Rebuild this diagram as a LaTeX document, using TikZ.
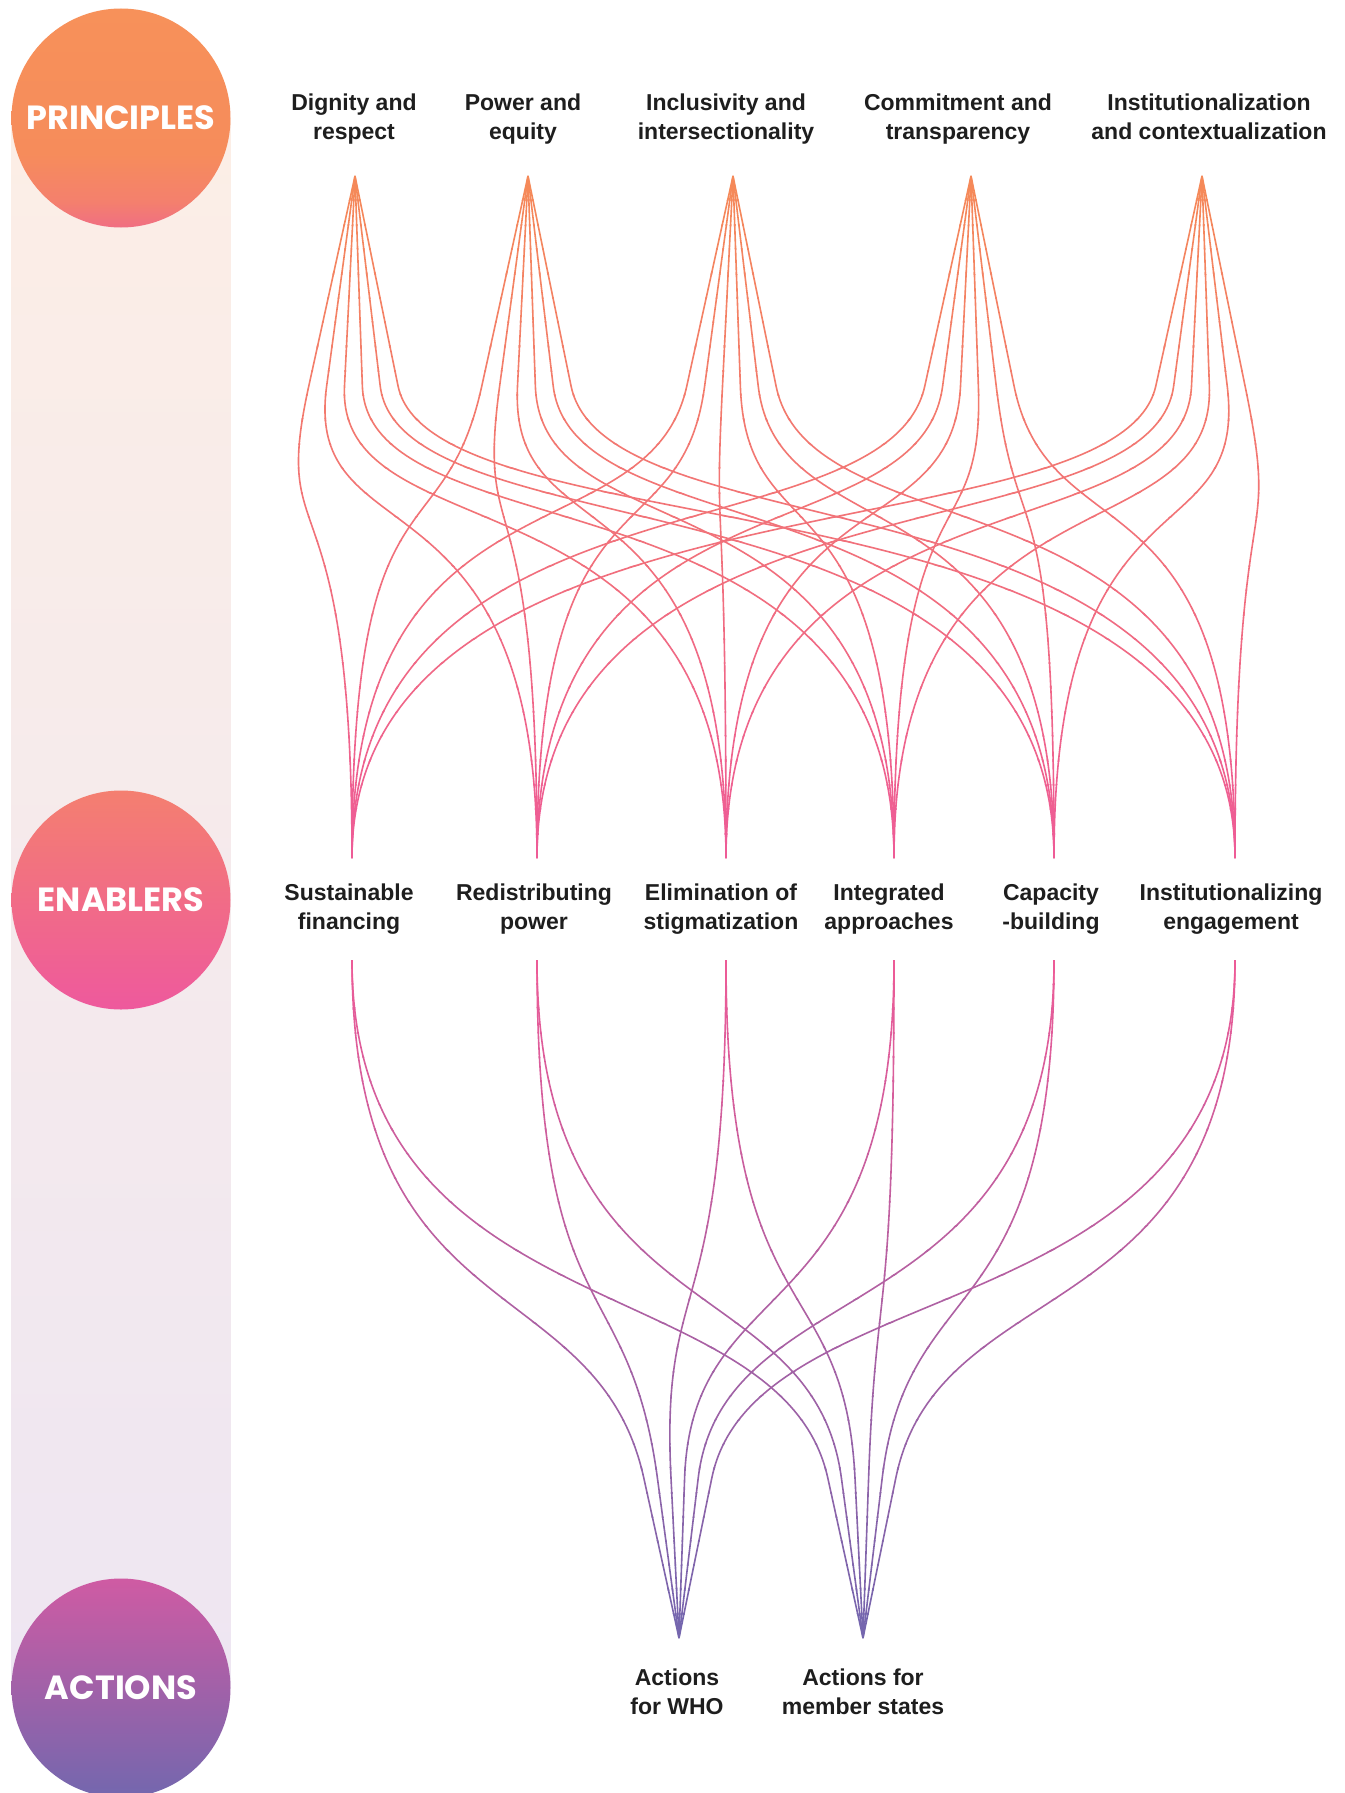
\documentclass[tikz,border=0pt]{standalone}
\usepackage{fontspec}
\setmainfont{Liberation Sans}
\newfontfamily\circfont{Poppins}
\usetikzlibrary{calc}
\definecolor{lineTop}{HTML}{F58A58}
\definecolor{lineMid}{HTML}{EE5B97}
\definecolor{lineLow}{HTML}{7366AE}
\definecolor{labelInk}{HTML}{1E1E1E}
\definecolor{stripTop}{HTML}{FCEEE6}
\definecolor{stripMid}{HTML}{FBE6EE}
\definecolor{stripBot}{HTML}{EEE6F2}
\definecolor{pA}{HTML}{F7915A}
\definecolor{pB}{HTML}{F68C5B}
\definecolor{pM}{HTML}{F4806D}
\definecolor{pC}{HTML}{F06E83}
\definecolor{eA}{HTML}{F47F70}
\definecolor{eB}{HTML}{EF5D94}
\definecolor{eC}{HTML}{EE599D}
\definecolor{aA}{HTML}{CF5BA3}
\definecolor{aB}{HTML}{8F66AD}
\definecolor{aC}{HTML}{7367AE}
\pgfdeclareverticalshading{princShade}{100bp}{color(0bp)=(pC); color(25bp)=(pC);
  color(31bp)=(pM); color(42bp)=(pB); color(75bp)=(pA); color(100bp)=(pA)}
\newcommand\Ls{\rule[-6.5pt]{0pt}{29pt}}
\begin{document}
\begin{tikzpicture}[x=1pt,y=-1pt,
  lab/.style={font=\fontsize{23}{29}\selectfont\bfseries, text=labelInk, align=center, inner sep=0pt},
  stage/.style={circle, minimum size=219pt, inner sep=0pt, text=white,
    font=\circfont\fontsize{33.5}{33.5}\selectfont\bfseries},
  flow/.style={line width=1.6pt}
]
\useasboundingbox (0,0) rectangle (1344,1793);
\fill[white] (0,0) rectangle (1344,1793);
% side strip
\shade[top color=stripTop, middle color=stripMid, bottom color=stripBot]
  (11.5,118) rectangle (230.5,1688);
% stage circles
\node[stage, shading=princShade] (cP) at (121,118) {PRINCIPLES};
\node[stage, top color=eA, middle color=eB, bottom color=eC] (cE) at (121,900) {ENABLERS};
\node[stage, top color=aA, middle color=aB, bottom color=aC] (cA) at (121,1688) {ACTIONS};
% anchor coordinates
\foreach \n/\x in {1/355,2/528,3/733,4/971,5/1202} {\coordinate (p\n) at (\x,176);}
\foreach \n/\x in {0/352,1/537,2/726,3/894,4/1054,5/1235} {
  \coordinate (et\n) at (\x,858);
  \coordinate (eb\n) at (\x,960);}
\coordinate (a1) at (679,1638);
\coordinate (a2) at (863,1638);
% principles -> enablers
\foreach \k in {0,...,27}{
  \pgfmathsetmacro\ya{176+24.357*\k-0.6-(\k==0)*8}
  \pgfmathsetmacro\yb{176+24.357*(\k+1)+0.6}
  \pgfmathsetmacro\pc{3.5714*(\k+0.5)}
  \begin{scope}
    \clip (0,\ya) rectangle (1344,\yb);
    \foreach \i in {1,...,5}{\foreach \j in {0,...,5}{
      \pgfmathsetmacro\s{-0.22+0.085*\j}
      \draw[flow, draw=lineMid!\pc!lineTop] (p\i) -- ++({\s*210},210)
        .. controls +({\s*175},175) and +(0,-400) .. (et\j);
    }}
  \end{scope}
}
% enablers -> actions
\foreach \k in {0,...,27}{
  \pgfmathsetmacro\ya{960+24.214*\k-0.6}
  \pgfmathsetmacro\yb{960+24.214*(\k+1)+0.6+(\k==27)*8}
  \pgfmathsetmacro\pc{3.5714*(\k+0.5)}
  \begin{scope}
    \clip (0,\ya) rectangle (1344,\yb);
    \foreach \m in {1,2}{\foreach \j in {0,...,5}{
      \pgfmathsetmacro\s{-0.22+0.085*\j}
      \draw[flow, draw=lineLow!\pc!lineMid] (eb\j)
        .. controls +(0,376) and +({\s*212},-212) .. ($(a\m)+({\s*160},-160)$) -- (a\m);
    }}
  \end{scope}
}
% labels
\node[lab] (lp1) at (354,116.5) {\Ls Dignity and\\\Ls respect};
\node[lab] (lp2) at (523,116.5) {\Ls Power and\\\Ls equity};
\node[lab] (lp3) at (726,116.5) {\Ls Inclusivity and\\\Ls intersectionality};
\node[lab] (lp4) at (958,116.5) {\Ls Commitment and\\\Ls transparency};
\node[lab] (lp5) at (1209,116.5) {\Ls Institutionalization\\\Ls and contextualization};
\node[lab] (le0) at (349,906.5) {\Ls Sustainable\\\Ls financing};
\node[lab] (le1) at (534,906.5) {\Ls Redistributing\\\Ls power};
\node[lab] (le2) at (721,906.5) {\Ls Elimination of\\\Ls stigmatization};
\node[lab] (le3) at (889,906.5) {\Ls Integrated\\\Ls approaches};
\node[lab] (le4) at (1051,906.5) {\Ls Capacity\\\Ls -building};
\node[lab] (le5) at (1231,906.5) {\Ls Institutionalizing\\\Ls engagement};
\node[lab] (la1) at (677,1691.5) {\Ls Actions\\\Ls for WHO};
\node[lab] (la2) at (863,1691.5) {\Ls Actions for\\\Ls member states};
\end{tikzpicture}
\end{document}
